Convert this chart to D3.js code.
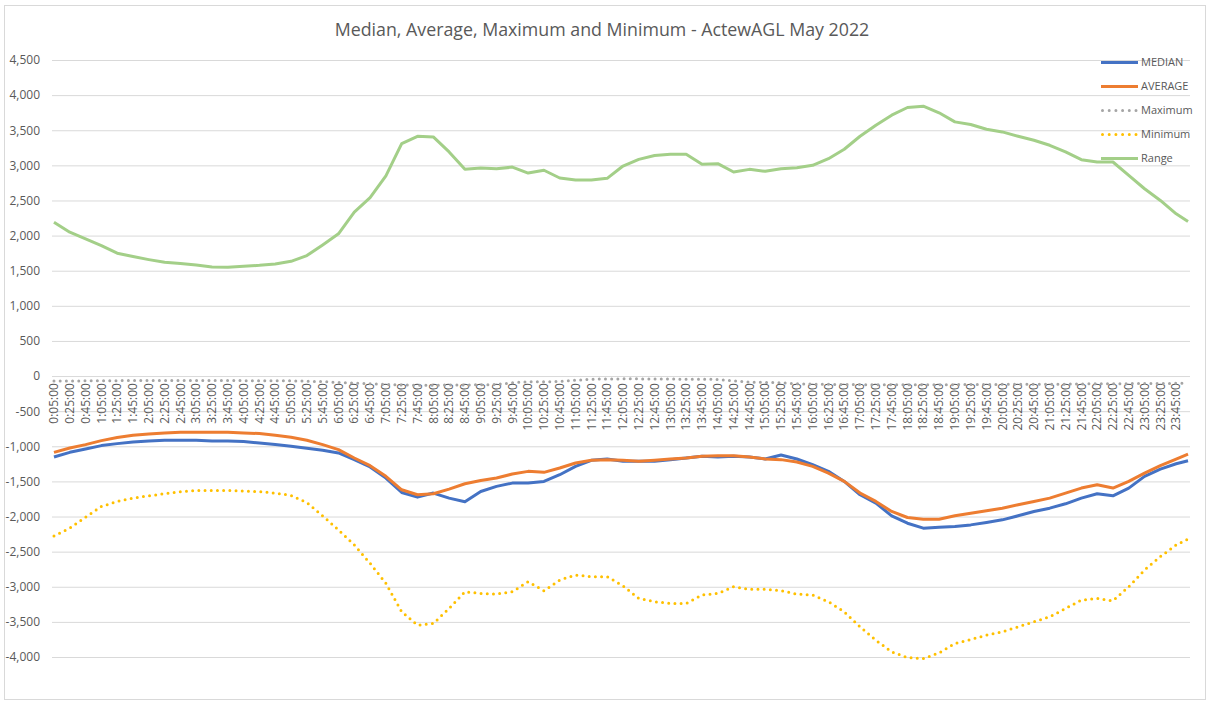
<!DOCTYPE html>
<html>
<head>
<meta charset="utf-8">
<script src="https://cdn.jsdelivr.net/npm/d3@7"></script>
<style>
  body { margin: 0; background: #fff; }
  svg { font-family: "Open Sans", "Liberation Sans", sans-serif; }
</style>
</head>
<body>
<svg class="chart" width="1208" height="702"></svg>
<script>
// sampled every 20 minutes from 0:05 plus the last slot (24:00)
let sampleMinutes = d3.range(5, 1440, 20).concat([1440])

let median = [-1152,-1086,-1038,-990,-962,-938,-924,-914,-914,-914,-924,-924,-933,-952,-976,-1000,-1029,-1057,-1095,-1190,
  -1295,-1452,-1657,-1724,-1666,-1738,-1790,-1643,-1571,-1524,-1524,-1500,-1405,-1286,-1200,-1181,
  -1214,-1214,-1214,-1190,-1167,-1143,-1152,-1143,-1152,-1181,-1124,-1181,-1262,-1357,-1500,-1690,-1809,-1990,-2095,-2166,
  -2152,-2142,-2119,-2085,-2047,-1990,-1928,-1881,-1819,-1738,-1676,-1705,-1595,-1428,-1324,-1248,-1205]

let average = [-1086,-1024,-976,-919,-876,-843,-824,-810,-800,-800,-800,-800,-810,-819,-843,-871,-914,-976,-1048,-1167,
  -1276,-1428,-1619,-1690,-1676,-1609,-1533,-1486,-1452,-1395,-1357,-1371,-1309,-1238,-1200,-1190,
  -1200,-1214,-1200,-1181,-1167,-1143,-1133,-1133,-1152,-1181,-1190,-1224,-1286,-1381,-1500,-1666,-1785,-1928,-2014,-2038,
  -2038,-1990,-1952,-1919,-1881,-1833,-1785,-1738,-1666,-1595,-1547,-1595,-1500,-1381,-1276,-1181,-1110]

let maximum = [-70,-70,-68,-66,-65,-65,-64,-64,-63,-63,-63,-64,-65,-66,-66,-68,
  -72,-80,-90,-100,-110,-120,-128,-130,-130,-128,-126,-125,-120,
  -95,-82,-80,-78,-60,-45,-42,-40,-40,-42,-43,-45,-45,-48,-70,-85,-90,-95,
  -110,-115,-118,-120,-122,-124,-125,-125,-125,-124,-122,-120,-120,-118,-118,-116,-115,-115,-112,-110,-110,-108,-106,-105,-104,-100]

let minimum = [-2276,-2166,-2009,-1857,-1785,-1738,-1704,-1676,-1647,-1628,-1628,-1628,-1638,-1647,-1666,-1700,-1800,-1990,-2190,-2404,
  -2666,-2952,-3356,-3547,-3523,-3309,-3071,-3095,-3104,-3071,-2928,-3057,-2904,-2833,-2857,-2857,
  -2986,-3166,-3213,-3237,-3237,-3118,-3095,-2999,-3037,-3037,-3057,-3104,-3118,-3213,-3356,-3570,-3761,-3928,-4008,-4023,
  -3942,-3808,-3751,-3689,-3642,-3570,-3499,-3428,-3309,-3190,-3166,-3200,-2999,-2761,-2571,-2404,-2320]

let range = [2190,2048,1953,1858,1749,1701,1658,1620,1601,1582,1553,1549,1563,1577,1596,1634,1715,1867,2025,2334,
  2539,2850,3310,3414,3405,3191,2945,2962,2950,2975,2890,2930,2820,2790,2790,2815,2990,3085,3140,
  3157,3157,3015,3024,2905,2943,2915,2953,2967,3000,3095,3229,3414,3572,3714,3824,3843,3748,3619,3581,
  3514,3476,3414,3357,3286,3191,3081,3048,3048,2857,2667,2500,2310,2200]

let yTicks = d3.range(-4000, 4501, 500)

let series = [
  {name: 'MEDIAN', values: median, color: '#4472c4', dotted: false},
  {name: 'AVERAGE', values: average, color: '#ed7d31', dotted: false},
  {name: 'Maximum', values: maximum, color: '#a5a5a5', dotted: true},
  {name: 'Minimum', values: minimum, color: '#ffc000', dotted: true},
  {name: 'Range', values: range, color: '#a3cf88', dotted: false}
]

let svg = d3.select('.chart'),
    margin = {top: 60, right: 18, bottom: 45, left: 52},
    width = 1190 - margin.left,
    height = 657 - margin.top,
    textColor = '#595959',
    gridColor = '#d9d9d9'

let timeLabel = m => Math.floor(m / 60) + ':' + d3.format('02')(m % 60) + ':00'
let categories = d3.range(5, 1441, 5).map(timeLabel)

let x = d3.scaleBand()
    .domain(categories)
    .range([margin.left, margin.left + width])
let y = d3.scaleLinear()
    .domain([-4000, 4500])
    .range([margin.top + height, margin.top])

// outer frame
svg.append('rect')
    .attr('x', 4.5).attr('y', 5.5)
    .attr('width', 1201).attr('height', 694)
    .attr('fill', 'none')
    .attr('stroke', gridColor)

svg.append('text')
    .attr('x', 602).attr('y', 36)
    .attr('text-anchor', 'middle')
    .attr('font-size', 17.8)
    .attr('fill', textColor)
    .text('Median, Average, Maximum and Minimum - ActewAGL May 2022')

// gridlines + y labels
svg.append('g')
    .selectAll('line')
    .data(yTicks)
    .enter().append('line')
    .attr('x1', margin.left).attr('x2', margin.left + width)
    .attr('y1', d => y(d) + 0.5).attr('y2', d => y(d) + 0.5)
    .attr('stroke', gridColor)
    .attr('stroke-width', 1)

let yAxis = d3.axisLeft(y)
    .tickValues(yTicks)
    .tickSize(0)
    .tickPadding(12)
    .tickFormat(d => d3.format(',')(d).replace('\u2212', '-'))
svg.append('g')
    .attr('transform', 'translate(' + margin.left + ',0)')
    .call(yAxis)
    .call(g => g.select('.domain').remove())
    .selectAll('text')
    .attr('font-size', 12)
    .attr('font-family', '"Open Sans", sans-serif')
    .attr('fill', textColor)

// category axis sits on zero
let xAxis = d3.axisBottom(x)
    .tickValues(categories.filter((d, i) => i % 4 === 0))
    .tickSize(0)
svg.append('g')
    .attr('transform', 'translate(0,' + y(0) + ')')
    .call(xAxis)
    .call(g => g.select('.domain').remove())
    .selectAll('text')
    .attr('transform', 'rotate(-90)')
    .attr('text-anchor', 'end')
    .attr('x', -7)
    .attr('y', 0)
    .attr('dy', '0.35em')
    .attr('font-size', 12)
    .attr('font-family', '"Open Sans", sans-serif')
    .attr('fill', textColor)

let line = d3.line()
    .x(d => x(timeLabel(d[0])) + x.bandwidth() / 2)
    .y(d => y(d[1]))

let plot = svg.append('g')
series.forEach(s => {
  let pts = sampleMinutes.map((m, i) => [m, s.values[i]])
  plot.append('path')
      .datum(pts)
      .attr('d', line)
      .attr('fill', 'none')
      .attr('stroke', s.color)
      .attr('stroke-width', 3)
      .attr('stroke-linejoin', 'round')
      .attr('stroke-linecap', s.dotted ? 'round' : 'butt')
      .attr('stroke-dasharray', s.dotted ? '0 6.2' : null)
})

// legend
let legend = svg.append('g')
    .selectAll('g')
    .data(series)
    .enter().append('g')
    .attr('transform', (d, i) => 'translate(1101,' + (62.5 + i * 24) + ')')
legend.append('line')
    .attr('x1', d => d.dotted ? 1.5 : 0).attr('x2', 37)
    .attr('stroke', d => d.color)
    .attr('stroke-width', 3)
    .attr('stroke-linecap', d => d.dotted ? 'round' : 'butt')
    .attr('stroke-dasharray', d => d.dotted ? '0 6.7' : null)
legend.append('text')
    .attr('x', 40)
    .attr('dy', '0.35em')
    .attr('font-size', 11)
    .attr('fill', textColor)
    .text(d => d.name)
</script>
</body>
</html>
